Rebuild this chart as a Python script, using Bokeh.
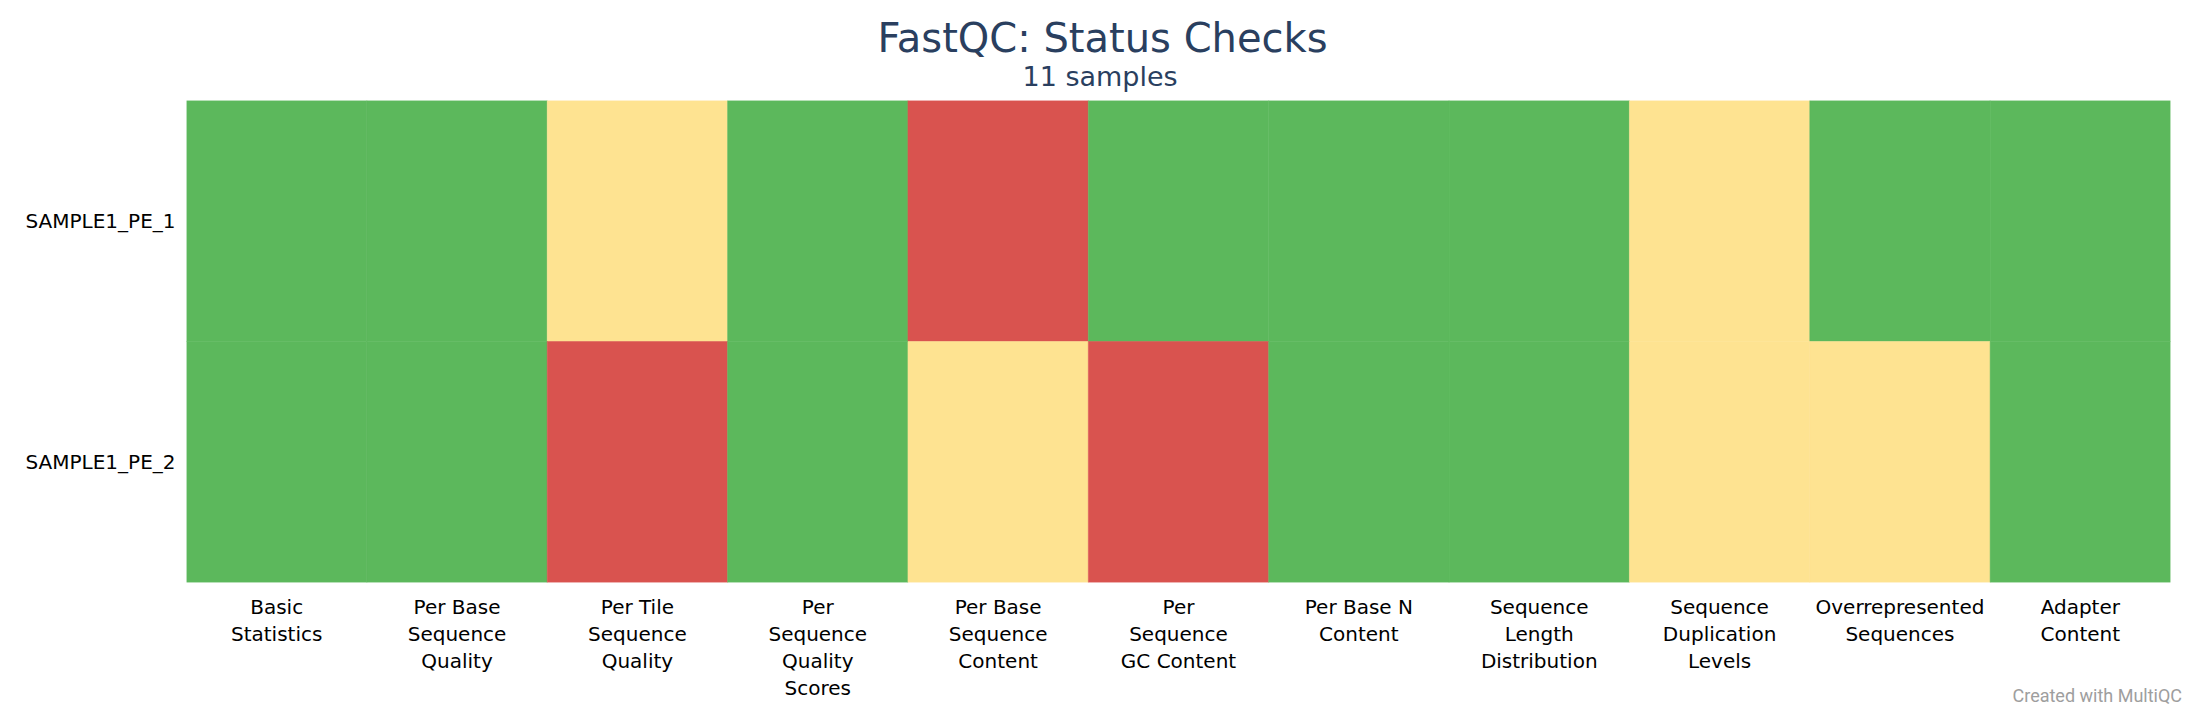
from bokeh.plotting import figure
from bokeh.models import FactorRange, Title, ColumnDataSource
from bokeh.embed import file_html
from bokeh.resources import INLINE

# ---- data ----
checks = [
    "Basic Statistics",
    "Per Base Sequence Quality",
    "Per Tile Sequence Quality",
    "Per Sequence Quality Scores",
    "Per Base Sequence Content",
    "Per Sequence GC Content",
    "Per Base N Content",
    "Sequence Length Distribution",
    "Sequence Duplication Levels",
    "Overrepresented Sequences",
    "Adapter Content",
]
check_labels = [
    "Basic\nStatistics",
    "Per Base\nSequence\nQuality",
    "Per Tile\nSequence\nQuality",
    "Per\nSequence\nQuality\nScores",
    "Per Base\nSequence\nContent",
    "Per\nSequence\nGC Content",
    "Per Base N\nContent",
    "Sequence\nLength\nDistribution",
    "Sequence\nDuplication\nLevels",
    "Overrepresented\nSequences",
    "Adapter\nContent",
]
samples = ["SAMPLE1_PE_1", "SAMPLE1_PE_2"]
status_pe1 = ["pass", "pass", "warn", "pass", "fail", "pass", "pass", "pass", "warn", "pass", "pass"]
status_pe2 = ["pass", "pass", "fail", "pass", "warn", "fail", "pass", "pass", "warn", "warn", "pass"]
status_colors = {"pass": "#5cb85c", "warn": "#fee391", "fail": "#d9534f"}

label_of = dict(zip(checks, check_labels))
xs, ys, cs = [], [], []
for s, row in zip(samples, [status_pe1, status_pe2]):
    for c, st in zip(checks, row):
        xs.append(label_of[c])
        ys.append(s)
        cs.append(status_colors[st])
src = ColumnDataSource(dict(x=xs, y=ys, color=cs))

p = figure(
    width=2184, height=704,
    x_range=FactorRange(factors=check_labels),
    y_range=FactorRange(factors=list(reversed(samples))),
    output_backend="svg", toolbar_location=None,
    min_border_left=186, min_border_right=14, min_border_top=100, min_border_bottom=122,
)
p.rect(x="x", y="y", width=1, height=1, fill_color="color", line_color="color",
       line_width=0.5, source=src)

p.outline_line_color = None
p.grid.visible = False
for ax in (p.xaxis, p.yaxis):
    ax.axis_line_color = None
    ax.major_tick_line_color = None
    ax.minor_tick_line_color = None
    ax.major_label_text_font = "DejaVu Sans"
    ax.major_label_text_font_size = "20px"
    ax.major_label_text_color = "#000000"
p.xaxis.major_label_standoff = 6
p.xaxis.major_label_text_line_height = 1.13
p.yaxis.major_label_standoff = 5

p.title.visible = False
sub = Title(text="11 samples", align="left", offset=836, text_font="DejaVu Sans",
            text_font_size="27px", text_font_style="normal", text_color="#2a3f5f", standoff=18)
main = Title(text="FastQC: Status Checks", align="left", offset=691, text_font="DejaVu Sans",
             text_font_size="40px", text_font_style="normal", text_color="#2a3f5f", standoff=-23)
p.add_layout(sub, "above")
p.add_layout(main, "above")

credit = Title(text="Created with MultiQC", align="left", offset=1826, text_font="Roboto",
               text_font_size="18px", text_font_style="normal", text_color="#9e9e9e",
               vertical_align="top", standoff=-36)
p.add_layout(credit, "below")

open("out.html", "w").write(file_html(p, INLINE))
